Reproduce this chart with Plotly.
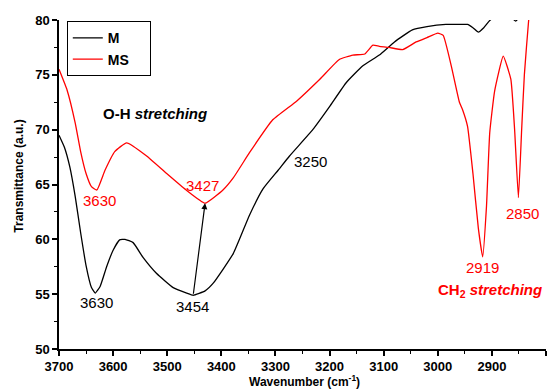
import plotly.graph_objects as go

# ---- data ----
m_wn = [3700, 3690, 3680, 3670, 3660, 3650, 3640, 3633, 3624, 3612, 3600, 3588, 3578, 3563,
        3544, 3520, 3489, 3464, 3452, 3430, 3415, 3378, 3348, 3323, 3295, 3274, 3231, 3200,
        3169, 3139, 3108, 3080, 3047, 3020, 2985, 2960, 2945, 2935, 2925, 2915, 2905, 2895,
        2870, 2856, 2845, 2830]
m_t = [69.5, 68.4, 66.6, 63.9, 60.6, 57.6, 55.6, 55.1, 55.7, 57.5, 59.0, 59.95, 60.0, 59.7,
       58.3, 56.9, 55.6, 55.1, 54.9, 55.3, 56.0, 58.7, 62.2, 64.6, 66.3, 67.6, 70.0, 72.1,
       74.3, 75.8, 76.8, 78.0, 79.1, 79.4, 79.6, 79.6, 79.6, 79.3, 78.9, 79.3, 79.9, 80.3,
       80.5, 79.9, 80.5, 81.0]

ms_wn = [3700, 3685, 3670, 3660, 3650, 3640, 3630, 3615, 3597, 3575, 3538, 3501, 3465, 3430,
         3397, 3378, 3348, 3305, 3261, 3218, 3182, 3157, 3135, 3120, 3108, 3090, 3065, 3040,
         3020, 3000, 2990, 2975, 2960, 2954, 2945, 2935, 2925, 2917, 2910, 2904, 2895, 2879,
         2865, 2858, 2851, 2845, 2840, 2832, 2825]
ms_t = [75.5, 73.6, 70.6, 68.0, 66.0, 64.8, 64.5, 66.3, 68.0, 68.8, 67.6, 66.0, 64.5, 63.3,
        64.5, 65.6, 67.9, 70.9, 72.6, 74.6, 76.4, 76.8, 76.9, 77.7, 77.6, 77.5, 77.3, 78.0,
        78.4, 78.8, 78.6, 75.8, 72.5, 71.8, 70.3, 66.0, 61.0, 58.4, 63.0, 69.7, 73.5, 76.7,
        74.6, 70.0, 63.8, 70.0, 75.0, 80.0, 83.0]

series_names = ["M", "MS"]
x_ticks = [3700, 3600, 3500, 3400, 3300, 3200, 3100, 3000, 2900, 2800]
y_ticks = [50, 55, 60, 65, 70, 75, 80]

FONT = "Liberation Sans, Arial, sans-serif"
PAD = "\u00a0" * 4

fig = go.Figure()
fig.add_trace(go.Scatter(x=m_wn, y=m_t, mode="lines", name=series_names[0] + PAD,
                         line=dict(color="black", width=1.3, shape="spline", smoothing=0.4)))
fig.add_trace(go.Scatter(x=ms_wn, y=ms_t, mode="lines", name=series_names[1] + PAD,
                         line=dict(color="#ff0000", width=1.3, shape="spline", smoothing=0.4)))

axis_common = dict(showline=True, linecolor="black", linewidth=1.5, ticks="outside",
                   ticklen=5, tickwidth=1.5, tickcolor="black", showgrid=False, zeroline=False,
                   mirror=False, automargin=False,
                   tickfont=dict(family=FONT, size=13, color="black", weight="bold"))

fig.update_xaxes(range=[3700, 2800], tickvals=x_ticks, **axis_common,
                 minor=dict(ticks="outside", ticklen=3, dtick=50, tickwidth=1.2, tickcolor="black"))
fig.update_yaxes(range=[50, 80], tickvals=y_ticks, **axis_common,
                 minor=dict(ticks="outside", ticklen=3, dtick=2.5, tickwidth=1.2, tickcolor="black"))

# axis titles
fig.add_annotation(x=0.505, y=-0.097, xref="paper", yref="paper", showarrow=False,
                   xanchor="center", yanchor="middle",
                   text="<b>Wavenumber (cm<sup>-1</sup>)</b>",
                   font=dict(family=FONT, size=12, color="black"))
fig.add_annotation(x=-0.082, y=0.524, xref="paper", yref="paper", showarrow=False,
                   xanchor="center", yanchor="middle", textangle=-90,
                   text="<b>Transmittance (a.u.)</b>",
                   font=dict(family=FONT, size=12, color="black"))

def label(x, y, text, color, size=15):
    fig.add_annotation(x=x, y=y, text=text, showarrow=False, xref="x", yref="y",
                       font=dict(family=FONT, size=size, color=color))

label(3630, 54.2, "3630", "black")
label(3453, 53.9, "3454", "black")
label(3236, 67.1, "3250", "black")
label(3626, 63.5, "3630", "#ff0000")
label(3434, 64.9, "3427", "#ff0000")
label(2917, 57.4, "2919", "#ff0000")
label(2843, 62.4, "2850", "#ff0000")

fig.add_annotation(x=3523, y=71.5, xref="x", yref="y", showarrow=False,
                   text="<b>O-H <i>stretching</i></b>",
                   font=dict(family=FONT, size=15, color="black"))
fig.add_annotation(x=2904, y=55.3, xref="x", yref="y", showarrow=False,
                   text="<b>CH<sub>2</sub> <i>stretching</i></b>",
                   font=dict(family=FONT, size=15, color="#ff0000"))

fig.add_annotation(x=3430, y=63.3, ax=3452, ay=54.9, xref="x", yref="y",
                   axref="x", ayref="y", showarrow=True, arrowhead=2, arrowsize=1,
                   arrowwidth=1.2, arrowcolor="black", text="")

fig.update_layout(
    width=560, height=392,
    margin=dict(l=59, r=14, t=20, b=43),
    paper_bgcolor="white", plot_bgcolor="white",
    font=dict(family=FONT, color="black"),
    legend=dict(x=0.016, y=0.996, xanchor="left", yanchor="top",
                bgcolor="white", bordercolor="black", borderwidth=1,
                font=dict(family=FONT, size=14, color="black", weight="bold"),
                tracegroupgap=0),
    showlegend=True,
)

fig.write_html("out.html")
